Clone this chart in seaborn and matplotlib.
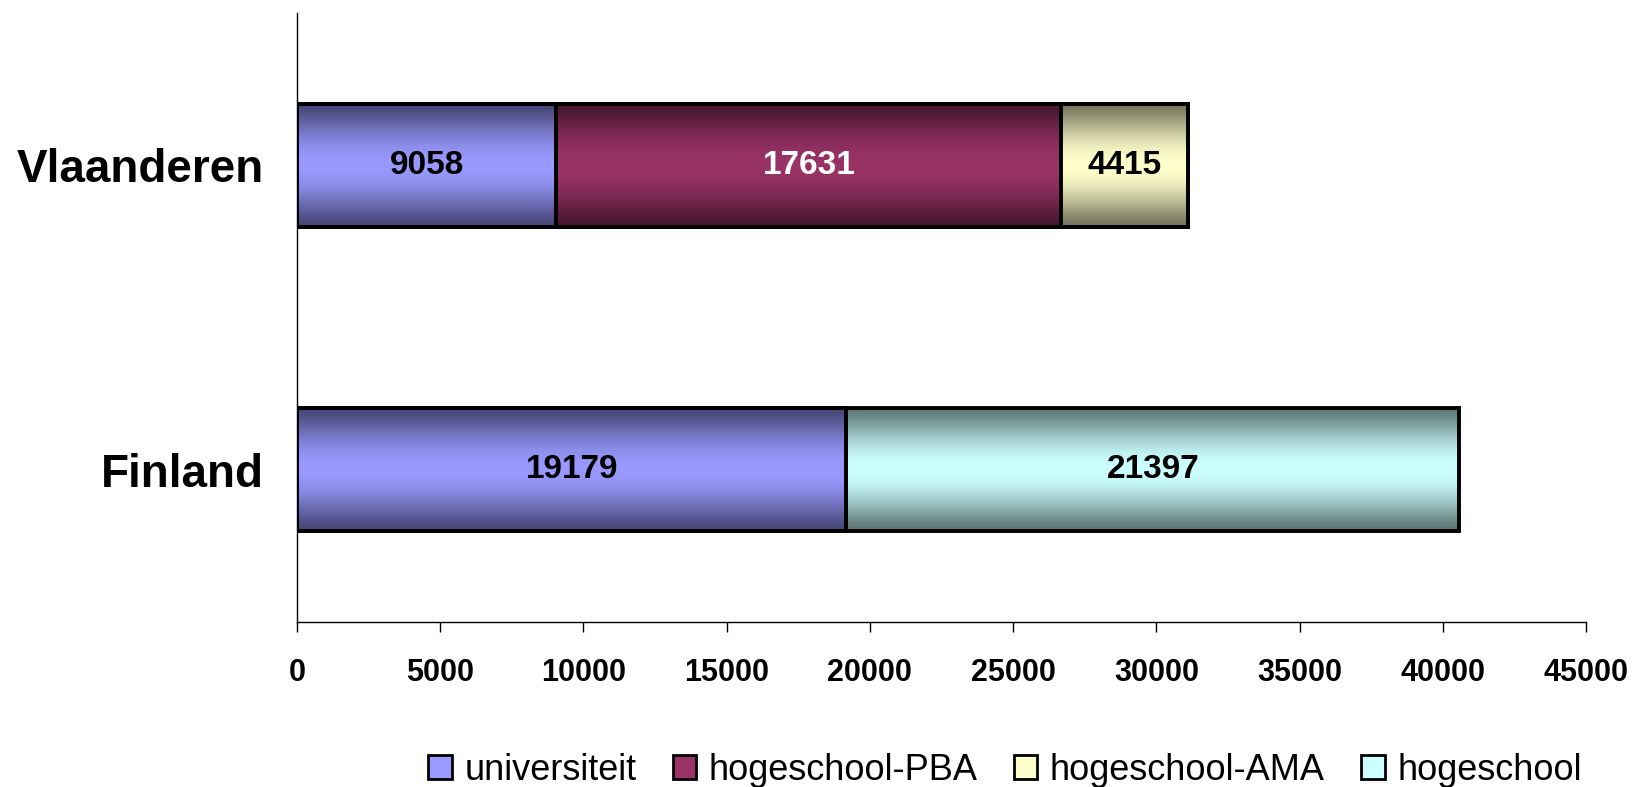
import numpy as np
import pandas as pd
import matplotlib
matplotlib.use("Agg")
import matplotlib.pyplot as plt
import matplotlib.patches as mpatches
import seaborn as sns

# data
countries = ["Vlaanderen", "Finland"]
series = ["universiteit", "hogeschool-PBA", "hogeschool-AMA", "hogeschool"]
universiteit = [9058, 19179]
hogeschool_pba = [17631, 0]
hogeschool_ama = [4415, 0]
hogeschool = [0, 21397]
colors = ["#9999FF", "#993366", "#FFFFCC", "#CCFFFF"]
label_colors = ["black", "white", "black", "black"]
xticks = [0, 5000, 10000, 15000, 20000, 25000, 30000, 35000, 40000, 45000]

values = np.array([universiteit, hogeschool_pba, hogeschool_ama, hogeschool])
cum = values.cumsum(axis=0)

sns.set_theme(style="white")
plt.rcParams['font.family'] = ['Liberation Sans', 'DejaVu Sans']
plt.rcParams['text.color'] = 'black'
plt.rcParams['xtick.color'] = 'black'
plt.rcParams['ytick.color'] = 'black'

fig = plt.figure(figsize=(16.37, 7.87), dpi=100)
ax = fig.add_axes([297/1637, 1-622/787, (1586-297)/1637, (622-13)/787])

# gradient profile: darker at top/bottom, full colour in the middle
t = np.linspace(0, 1, 200)
shade = 0.45 + 0.55 * np.sin(np.pi * t) ** 1.3

# stacked bars: draw cumulative totals from the largest down
for j, i in enumerate(reversed(range(len(series)))):
    n0 = len(ax.patches)
    df = pd.DataFrame({"country": countries, "total": cum[i]})
    sns.barplot(data=df, x="total", y="country", orient="h", color=colors[i],
                width=0.404, edgecolor="black", linewidth=0, saturation=1,
                ax=ax, zorder=2 + 3 * j)
    rgb = np.array(matplotlib.colors.to_rgb(colors[i]))
    grad = (shade[:, None, None] * rgb[None, None, :]).clip(0, 1)
    for p in ax.patches[n0:]:
        x0, y0 = p.get_x(), p.get_y()
        w, h = p.get_width(), p.get_height()
        if w <= 0:
            continue
        im = ax.imshow(grad, extent=[x0, x0 + w, y0 + h, y0], aspect="auto",
                       interpolation="bilinear", zorder=2 + 3 * j + 1)
        im.set_clip_path(p)
        ax.add_patch(mpatches.Rectangle((x0, y0), w, h, fill=False,
                                        edgecolor="black", linewidth=2.8,
                                        zorder=2 + 3 * j + 2))

# value labels in the middle of each segment
for i in range(len(series)):
    for k in range(len(countries)):
        v = values[i, k]
        if v == 0:
            continue
        ax.text(cum[i, k] - v / 2, k, str(v), ha="center", va="center",
                fontsize=24, fontweight="bold", color=label_colors[i], zorder=50)

ax.set_xlim(0, 45000)
ax.set_ylim(1.5, -0.5)
ax.set_xticks(xticks)
ax.set_xticklabels([str(x) for x in xticks])
ax.set_xlabel("")
ax.set_ylabel("")
for s in ["top", "right"]:
    ax.spines[s].set_visible(False)
for s in ["left", "bottom"]:
    ax.spines[s].set_color("black")
    ax.spines[s].set_linewidth(1.0)
ax.tick_params(axis="x", direction="out", length=7, width=1, color="black",
               pad=19, labelsize=22, bottom=True)
ax.tick_params(axis="y", length=0, pad=24, labelsize=33)
for lab in ax.get_xticklabels() + ax.get_yticklabels():
    lab.set_fontweight("bold")

handles = [mpatches.Patch(facecolor=c, edgecolor="black", linewidth=2) for c in colors]
fig.legend(handles, series, loc="center", bbox_to_anchor=(1005/1637, 1-770/787),
           ncol=4, frameon=False, fontsize=26, handlelength=0.65, handleheight=0.65,
           handletextpad=0.35, columnspacing=1.0, borderaxespad=0)

fig.savefig("out.png", dpi=100)
